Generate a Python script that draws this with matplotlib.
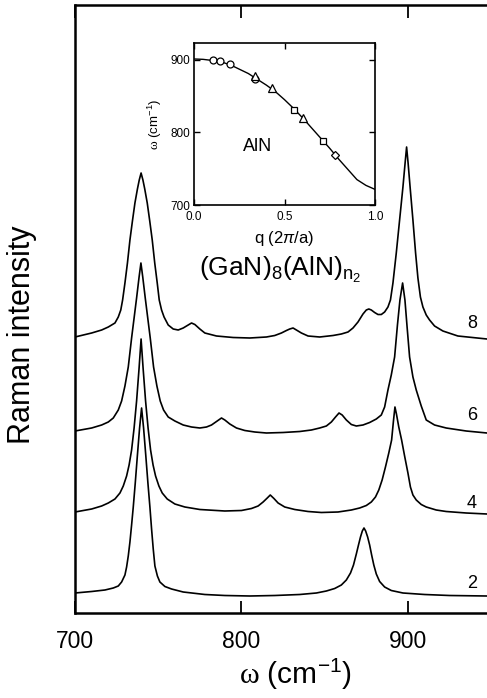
import matplotlib
matplotlib.use("Agg")
import matplotlib.pyplot as plt

plt.rcParams['font.family'] = ['Liberation Sans', 'DejaVu Sans']
plt.rcParams['mathtext.fontset'] = 'custom'
plt.rcParams['mathtext.rm'] = 'Liberation Sans'
plt.rcParams['mathtext.it'] = 'Liberation Sans:italic'
plt.rcParams['mathtext.bf'] = 'Liberation Sans:bold'
plt.rcParams['mathtext.sf'] = 'Liberation Serif'   # used for the serif omega

# Raman spectra of (GaN)8(AlN)n2, wavenumber (cm-1) vs intensity (arb. units, offset)
w_n8 = [700, 710, 716, 720, 722, 724, 726, 727.5, 728.6, 730, 731.5, 733, 734.5, 736, 737.5,
        738.6, 739.7, 740.8, 741.9, 743.4, 744.9, 746.4, 747.9, 749.4, 750.6, 752, 753.5, 756,
        759, 762, 765, 768, 770, 772, 775, 778, 785, 795, 805, 815, 820, 824, 827, 829, 831,
        833, 836, 840, 847, 855, 860, 864, 867, 870, 873, 875, 876.5, 878, 880, 882, 884, 886,
        888, 889.5, 891, 893, 895, 897, 898.3, 899.2, 900.1, 901.3, 903, 904.6, 906, 907.5,
        909, 911, 913, 916, 921, 930, 947.5]
i_n8 = [276, 280, 283, 286, 288, 290, 296, 303, 313, 330, 350, 373, 392, 410, 424,
        433, 440, 433, 424, 410, 392, 373, 350, 330, 313, 303, 296, 288,
        284, 283, 285, 288, 290, 288.5, 284, 280, 277, 275.5, 275, 276, 277.5, 280, 282.5, 284, 285,
        283, 280, 277, 276, 277.5, 279, 281, 285, 291, 299, 303, 304, 303, 300.5, 298.5, 298.5, 301,
        306, 313, 330, 360, 393, 426, 450, 466, 450, 426, 393, 360, 335, 316,
        306, 298, 293, 287, 282, 277, 274]

w_n6 = [700, 710, 716, 720, 723, 726, 728, 730, 732, 734, 735.5, 737, 738.5, 739.6, 740.7,
        742.2, 743.7, 745.2, 747.2, 749.2, 751.2, 753.2, 756, 760, 765, 770, 775, 779, 782,
        785, 788, 790, 793, 797, 802, 808, 815, 825, 835, 842, 847, 851, 854, 856.5, 858.6,
        860.5, 863, 866, 869, 873, 877, 881, 884, 886, 888, 890, 892, 893.7, 895.2, 896.8,
        898.2, 899.5, 901, 903, 905, 908, 911, 916, 923, 935, 947.5]
i_n6 = [182, 185, 188, 191, 195, 203, 212, 227, 246, 275, 295, 315, 336, 350, 336,
        315, 295, 275, 246, 227, 212, 203, 196, 192, 188, 186, 185, 186, 188,
        191.5, 195, 193, 189, 185, 182.5, 181, 180, 180.5, 181.5, 183, 185, 187, 191, 196, 200,
        198, 193, 188.5, 187, 188, 190.5, 194, 198, 206, 223, 238, 256, 288, 313, 330,
        313, 286, 256, 236, 223, 207, 193, 188, 185, 182, 180]

w_n4 = [700, 710, 716, 720, 724, 727, 729, 731, 732.5, 734, 735.5, 737, 738.5, 739.7, 740.9,
        742.4, 743.9, 745.4, 746.9, 748.4, 750.4, 752.4, 755.4, 760, 766, 775, 790, 800, 806,
        810, 813, 815.5, 817.3, 819.5, 822, 826, 832, 840, 848, 858, 866, 871, 875, 878,
        880.5, 882.5, 884.5, 886.5, 888.5, 890.2, 891.3, 892.2, 893.1, 894.5, 896.2, 898, 900,
        901.5, 903, 905, 908, 911, 917, 923, 935, 947.5]
i_n4 = [101, 104, 107, 110, 114, 120, 127, 137, 148, 163, 185, 212, 245, 274, 245,
        212, 185, 163, 148, 137, 127, 120, 114, 109, 106, 103.5, 102, 102.5, 104.5,
        107, 111, 115, 118, 114.5, 110, 106, 103.5, 101.5, 100.5, 101, 103, 105, 107.5, 111,
        116, 123, 133, 146, 160, 173, 192, 206, 199, 186, 173, 157, 140,
        126, 118, 113, 108.5, 106, 103, 101.5, 100, 99]

w_n2 = [700, 710, 718, 723, 726, 728, 730, 731, 732, 733, 734, 735, 736.2, 737.5, 738.8, 740,
        741.2, 742.5, 743.8, 745, 746, 747, 748, 749.5, 751, 754, 758, 765, 778, 790, 805,
        820, 835, 845, 851, 856, 860, 863, 865.5, 867.3, 869, 870.3, 871.5, 872.6, 873.6,
        874.6, 875.8, 877, 878.2, 879.5, 881, 883, 886, 890, 897, 910, 925, 947.5]
i_n2 = [20, 21.5, 23, 25, 27, 31, 38, 46, 57, 71, 88, 106, 130, 158, 185, 205,
        185, 158, 130, 106, 84, 64, 47, 37, 31, 26.5, 24, 21, 18.5, 17.5, 17,
        17.5, 18.5, 20, 22, 24.5, 28, 33, 40, 48, 59, 68, 76, 82, 85,
        82, 76, 68, 58, 48, 39, 31.5, 26, 22.5, 20, 18.5, 17.5, 17]

spectra = [(w_n2, i_n2), (w_n4, i_n4), (w_n6, i_n6), (w_n8, i_n8)]
n2_labels = ['2', '4', '6', '8']
label_heights = [30, 110, 198, 290]

# inset: AlN LO dispersion, q (2pi/a) vs omega (cm-1)
q_curve = [0, 0.05, 0.1, 0.15, 0.2, 0.25, 0.3, 0.35, 0.4, 0.45, 0.5, 0.55, 0.6, 0.65,
           0.7, 0.75, 0.8, 0.85, 0.9, 0.95, 1.0]
w_curve = [901, 900.5, 899, 897, 893, 887, 881, 873, 865, 856, 845, 833, 820, 806,
           792, 778, 763, 749, 735, 727, 721.5]
q_circ = [0.107, 0.144, 0.199, 0.337]
w_circ = [900, 897.7, 893.6, 874]
q_tri = [0.337, 0.429, 0.600]
w_tri = [877, 860.5, 819.5]
q_sq = [0.554, 0.715]
w_sq = [831, 787.7]
q_dia = [0.779]
w_dia = [769.5]

fig = plt.figure(figsize=(4.87, 6.98), dpi=100)

ax = fig.add_axes([75 / 487, 85 / 698, 412 / 487, 608 / 698])
for w, inten in spectra:
    ax.plot(w, inten, color='black', lw=1.2)
for lab, h in zip(n2_labels, label_heights):
    ax.text(938.5, h, lab, fontsize=13, ha='center', va='center')
ax.text(823, 343, r'(GaN)$_8$(AlN)$_{\mathrm{n}_2}$', fontsize=19, ha='center', va='center')

ax.set_xlim(700, 947.5)
ax.set_ylim(0, 608)
ax.set_xticks([700, 800, 900])
ax.set_yticks([])
ax.tick_params(axis='x', direction='in', length=9, width=1.3, top=True, labelsize=16.5, pad=12)
ax.spines['right'].set_visible(False)
for s in ['left', 'bottom', 'top']:
    ax.spines[s].set_linewidth(1.8)
ax.set_xlabel(r'$\mathsf{\omega}$ (cm$^{-1}$)', fontsize=21.5)
ax.xaxis.set_label_coords((295 - 75) / 412, -0.072)
fig.text(22 / 487, 1 - 335 / 698, 'Raman intensity', rotation=90, fontsize=22,
         ha='center', va='center')

ins = fig.add_axes([194 / 487, 493 / 698, 181 / 487, 162 / 698])
ins.plot(q_curve, w_curve, color='black', lw=1.0)
mk = dict(linestyle='none', markerfacecolor='white', markeredgecolor='black',
          markeredgewidth=0.9)
ins.plot(q_circ, w_circ, marker='o', markersize=5, **mk)
ins.plot(q_tri, w_tri, marker='^', markersize=5.5, **mk)
ins.plot(q_sq, w_sq, marker='s', markersize=4.5, **mk)
ins.plot(q_dia, w_dia, marker='D', markersize=4, **mk)
ins.text(0.35, 780, 'AlN', fontsize=13, ha='center', va='center')
ins.set_xlim(0, 1)
ins.set_ylim(700, 923)
ins.set_xticks([0, 0.5, 1.0])
ins.set_xticklabels(['0.0', '0.5', '1.0'])
ins.set_yticks([700, 800, 900])
ins.tick_params(direction='in', length=4, width=1.0, top=True, right=True,
                labelsize=8.5)
ins.tick_params(axis='x', pad=4)
ins.tick_params(axis='y', pad=3)
for s in ins.spines.values():
    s.set_linewidth(1.2)
ins.set_xlabel(r'q (2$\pi$/a)', fontsize=12, labelpad=5)
ins.set_ylabel(r'$\mathsf{\omega}$ (cm$^{-1}$)', fontsize=9.5, labelpad=4)

fig.savefig('out.png', dpi=100)
